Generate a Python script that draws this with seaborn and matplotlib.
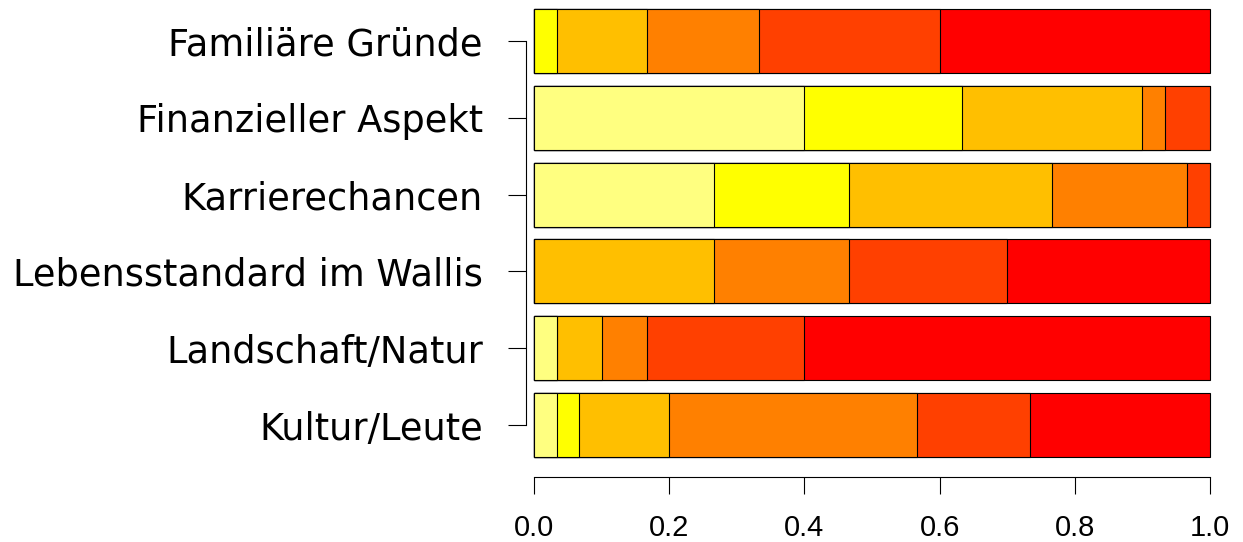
import numpy as np
import pandas as pd
import seaborn as sns
import matplotlib.pyplot as plt

# Kategorien (oben nach unten) und Anteile je Antwortstufe (in 30steln)
gruende = ["Familiäre Gründe", "Finanzieller Aspekt", "Karrierechancen",
           "Lebensstandard im Wallis", "Landschaft/Natur", "Kultur/Leute"]
stufe1 = [0, 12, 8, 0, 1, 1]
stufe2 = [1, 7, 6, 0, 0, 1]
stufe3 = [4, 8, 9, 8, 2, 4]
stufe4 = [5, 1, 6, 6, 2, 11]
stufe5 = [8, 2, 1, 7, 7, 5]
stufe6 = [12, 0, 0, 9, 18, 8]
farben = ["#FFFF80", "#FFFF00", "#FFBF00", "#FF8000", "#FF4000", "#FF0000"]
ticks = [0.0, 0.2, 0.4, 0.6, 0.8, 1.0]

sns.set_style("white")
plt.rcParams["font.family"] = ["DejaVu Sans"]

werte = np.array([stufe1, stufe2, stufe3, stufe4, stufe5, stufe6], dtype=float)
anteile = werte / werte.sum(axis=0)
kumuliert = np.cumsum(anteile, axis=0)

fig = plt.figure(figsize=(12.43, 5.42), dpi=100)
ax = fig.add_axes([500 / 1243, 0, 715 / 1243, 1])

# von rechts nach links zeichnen, die kürzeren Balken liegen oben drauf
for k in range(5, -1, -1):
    df = pd.DataFrame({"grund": gruende, "wert": kumuliert[k]})
    sns.barplot(data=df, x="wert", y="grund", orient="h", color=farben[k],
                saturation=1, width=1 / 1.2, edgecolor="black", linewidth=0.8,
                ax=ax)

ax.set_xlim(-34 / 676, 1 + 5 / 676)
ax.set_ylim(5 + 117 / 76.8, -41 / 76.8)
ax.set_xlabel("")
ax.set_ylabel("")

for s in ["top", "right"]:
    ax.spines[s].set_visible(False)
ax.spines["left"].set_position(("data", -8 / 676))
ax.spines["left"].set_bounds(0, 5)
ax.spines["bottom"].set_position(("data", 5 + 52 / 76.8))
ax.spines["bottom"].set_bounds(0, 1)
for s in ["left", "bottom"]:
    ax.spines[s].set_linewidth(0.8)
    ax.spines[s].set_color("black")

ax.set_xticks(ticks)
ax.set_xticklabels([f"{t:.1f}" for t in ticks])
ax.tick_params(axis="x", length=12.5, width=0.8, pad=14.5, colors="black")
ax.tick_params(axis="y", length=13, width=0.8, pad=18, colors="black")
ax.tick_params(left=True, bottom=True)
for lab in ax.get_xticklabels():
    lab.set_fontfamily("Liberation Sans")
    lab.set_fontsize(21)
for lab in ax.get_yticklabels():
    lab.set_fontsize(26.5)

fig.savefig("out.png", dpi=100)
